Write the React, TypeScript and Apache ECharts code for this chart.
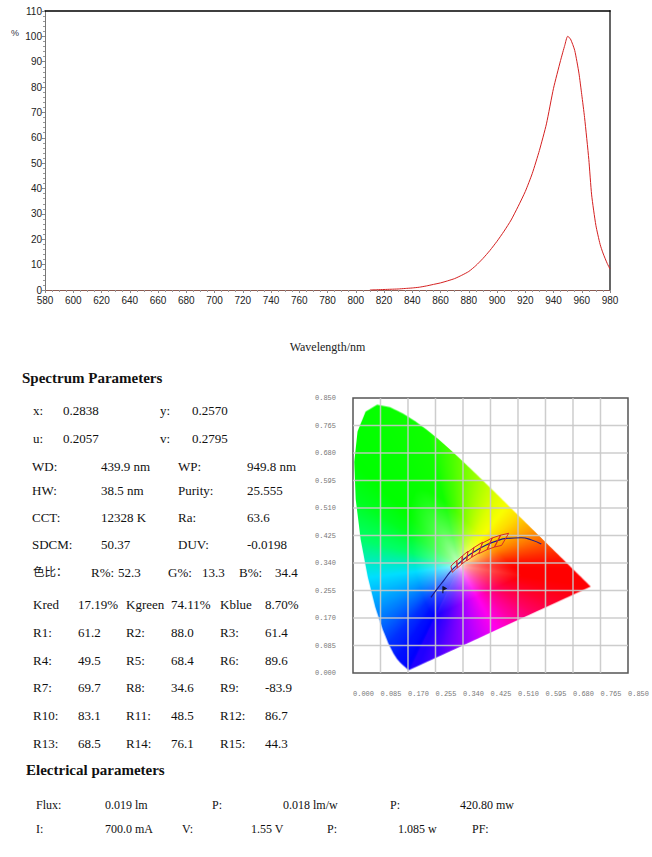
import { useEffect, useRef } from 'react';
import * as echarts from 'echarts';

// relative spectrum (%)
const wavelengths = [810, 815, 820, 825, 830, 835, 840, 845, 850, 855, 860, 865, 870, 875, 880, 885, 890, 895, 900, 905, 910, 915, 920, 925, 930, 935, 940, 945, 948, 950, 952, 955, 958, 960, 962, 965, 967, 970, 973, 975, 978, 980];
const intensities = [0, 0.1, 0.2, 0.3, 0.4, 0.6, 0.8, 1.1, 1.6, 2.2, 2.8, 3.6, 4.5, 5.8, 7.3, 9.6, 12.4, 15.6, 19.2, 23.2, 27.6, 33.0, 38.8, 46.0, 55.0, 65.5, 79.5, 90.5, 96.5, 100, 99, 94.5, 85.5, 77.0, 68.0, 51.5, 37.5, 25.5, 18.0, 14.6, 10.5, 8.3];

const cieTicks = [0, 0.085, 0.17, 0.255, 0.34, 0.425, 0.51, 0.595, 0.68, 0.765, 0.85];

// CIE 1931 spectral locus
const locusNm = [380, 385, 390, 395, 400, 405, 410, 415, 420, 425, 430, 435, 440, 445, 450, 455, 460, 465, 470, 475, 480, 485, 490, 495, 500, 505, 510, 515, 520, 525, 530, 535, 540, 545, 550, 555, 560, 565, 570, 575, 580, 585, 590, 595, 600, 605, 610, 615, 620, 625, 630, 635, 640, 645, 650, 655, 660, 665, 670, 675, 680, 685, 690, 695, 700];
const locusX = [0.1741, 0.1740, 0.1738, 0.1736, 0.1733, 0.1730, 0.1726, 0.1721, 0.1714, 0.1703, 0.1689, 0.1669, 0.1644, 0.1611, 0.1566, 0.1510, 0.1440, 0.1355, 0.1241, 0.1096, 0.0913, 0.0687, 0.0454, 0.0235, 0.0082, 0.0039, 0.0139, 0.0389, 0.0743, 0.1142, 0.1547, 0.1929, 0.2296, 0.2658, 0.3016, 0.3373, 0.3731, 0.4087, 0.4441, 0.4788, 0.5125, 0.5448, 0.5752, 0.6029, 0.6270, 0.6482, 0.6658, 0.6801, 0.6915, 0.7006, 0.7079, 0.7140, 0.7190, 0.7230, 0.7260, 0.7283, 0.7300, 0.7311, 0.7320, 0.7327, 0.7334, 0.7340, 0.7344, 0.7346, 0.7347];
const locusY = [0.0050, 0.0050, 0.0049, 0.0049, 0.0048, 0.0048, 0.0048, 0.0048, 0.0051, 0.0058, 0.0069, 0.0086, 0.0109, 0.0138, 0.0177, 0.0227, 0.0297, 0.0399, 0.0578, 0.0868, 0.1327, 0.2007, 0.2950, 0.4127, 0.5384, 0.6548, 0.7502, 0.8120, 0.8338, 0.8262, 0.8059, 0.7816, 0.7543, 0.7243, 0.6923, 0.6589, 0.6245, 0.5896, 0.5547, 0.5202, 0.4866, 0.4544, 0.4242, 0.3965, 0.3725, 0.3514, 0.3340, 0.3197, 0.3083, 0.2993, 0.2920, 0.2859, 0.2809, 0.2770, 0.2740, 0.2717, 0.2700, 0.2689, 0.2680, 0.2673, 0.2666, 0.2660, 0.2656, 0.2654, 0.2653];
const locusColorStops: [number, string][] = [
  [380, '#2000ff'], [440, '#0000ff'], [465, '#0010ff'], [475, '#0030ff'], [482, '#0070ff'],
  [487, '#00b0ff'], [492, '#00ffff'], [495.5, '#00ff50'], [500, '#00ff20'], [505, '#00ff00'],
  [540, '#10ff00'], [552, '#50ff00'], [562, '#a0ff00'], [570, '#e0ff00'], [576, '#ffff00'],
  [582, '#ffc800'], [588, '#ff9000'], [595, '#ff5000'], [603, '#ff1800'], [615, '#ff0000'],
  [700, '#ff0000'],
];
// line of purples, from the red end back to the violet end
const purpleX = [0.68, 0.62, 0.56, 0.50, 0.44, 0.38, 0.32, 0.26, 0.20];
const purpleY = [0.2399, 0.2120, 0.1842, 0.1563, 0.1285, 0.1006, 0.0727, 0.0449, 0.0170];
const purpleColors = ['#ff0010', '#ff0030', '#ff0060', '#ff00a0', '#ff00f0', '#c000ff', '#8000ff', '#4800ff', '#2000ff'];
const whitePoint = [0.33, 0.33];

const planckX = [0.241, 0.262, 0.282, 0.300, 0.320, 0.350, 0.380, 0.410, 0.440, 0.475, 0.520, 0.550, 0.582];
const planckY = [0.234, 0.262, 0.288, 0.312, 0.332, 0.358, 0.378, 0.395, 0.407, 0.416, 0.418, 0.412, 0.399];

const ansiBins = [
  [[0.4813, 0.4319], [0.4562, 0.4260], [0.4373, 0.3893], [0.4593, 0.3944]],
  [[0.4562, 0.4260], [0.4303, 0.4173], [0.4147, 0.3814], [0.4373, 0.3893]],
  [[0.4303, 0.4173], [0.3996, 0.4015], [0.3889, 0.3690], [0.4147, 0.3814]],
  [[0.4006, 0.4044], [0.3736, 0.3874], [0.3670, 0.3578], [0.3898, 0.3716]],
  [[0.3736, 0.3874], [0.3548, 0.3736], [0.3512, 0.3465], [0.3670, 0.3578]],
  [[0.3551, 0.3760], [0.3376, 0.3616], [0.3366, 0.3369], [0.3515, 0.3487]],
  [[0.3376, 0.3616], [0.3207, 0.3462], [0.3222, 0.3243], [0.3366, 0.3369]],
  [[0.3205, 0.3481], [0.3028, 0.3304], [0.3068, 0.3113], [0.3221, 0.3261]],
];
const measuredXY = [0.2838, 0.2570];

// parameter texts
const spectrumTitle = 'Spectrum Parameters';
const coordRows = [
  ['x:', '0.2838', 'y:', '0.2570'],
  ['u:', '0.2057', 'v:', '0.2795'],
];
const photoRows = [
  ['WD:', '439.9 nm', 'WP:', '949.8 nm'],
  ['HW:', '38.5 nm', 'Purity:', '25.555'],
  ['CCT:', '12328 K', 'Ra:', '63.6'],
  ['SDCM:', '50.37', 'DUV:', '-0.0198'],
];
const ratioRow = ['色比：', 'R%:', '52.3', 'G%:', '13.3', 'B%:', '34.4'];
const renderRows = [
  ['Kred', '17.19%', 'Kgreen', '74.11%', 'Kblue', '8.70%'],
  ['R1:', '61.2', 'R2:', '88.0', 'R3:', '61.4'],
  ['R4:', '49.5', 'R5:', '68.4', 'R6:', '89.6'],
  ['R7:', '69.7', 'R8:', '34.6', 'R9:', '-83.9'],
  ['R10:', '83.1', 'R11:', '48.5', 'R12:', '86.7'],
  ['R13:', '68.5', 'R14:', '76.1', 'R15:', '44.3'],
];
const electricalTitle = 'Electrical parameters';
const elecRow1 = ['Flux:', '0.019 lm', 'P:', '0.018 lm/w', 'P:', '420.80 mw'];
const elecRow2 = ['I:', '700.0 mA', 'V:', '1.55 V', 'P:', '1.085 w', 'PF:'];

const hexRgb = (h: string) => {
  const n = parseInt(h.slice(1), 16);
  return [(n >> 16) & 255, (n >> 8) & 255, n & 255];
};
const colorAt = (nm: number) => {
  for (let i = 0; i < locusColorStops.length - 1; i++) {
    const [n0, c0] = locusColorStops[i];
    const [n1, c1] = locusColorStops[i + 1];
    if (nm >= n0 && nm <= n1) {
      const p = hexRgb(c0), q = hexRgb(c1), t = (nm - n0) / (n1 - n0);
      return p.map((v, k) => v + (q[k] - v) * t);
    }
  }
  return [255, 0, 0];
};

const boundary = [
  ...locusX.map((x, i) => [x, locusY[i]]),
  ...purpleX.map((x, i) => [x, purpleY[i]]),
];
const boundaryRgb = [...locusNm.map(colorAt), ...purpleColors.map(hexRgb)];

// chromaticity background: colours spread from the white point out to the boundary
const buildGamut = (w: number, h: number, span: number) => {
  const canvas = document.createElement('canvas');
  canvas.width = w;
  canvas.height = h;
  const ctx = canvas.getContext('2d');
  if (!ctx) return '';
  const N = 1440;
  const rayLen = new Float32Array(N);
  const rayRgb: number[][] = [];
  const [wx, wy] = whitePoint;
  for (let k = 0; k < N; k++) {
    const th = (k / N) * Math.PI * 2 - Math.PI;
    const dx = Math.cos(th), dy = Math.sin(th);
    let best = Infinity;
    let col = [255, 255, 255];
    for (let i = 0; i < boundary.length; i++) {
      const j = (i + 1) % boundary.length;
      const [ax, ay] = boundary[i];
      const ex = boundary[j][0] - ax, ey = boundary[j][1] - ay;
      const den = dx * ey - dy * ex;
      if (Math.abs(den) < 1e-12) continue;
      const fx = ax - wx, fy = ay - wy;
      const t = (fx * ey - fy * ex) / den;
      const s = (fx * dy - fy * dx) / den;
      if (t > 0 && s >= 0 && s <= 1 && t < best) {
        best = t;
        const c0 = boundaryRgb[i], c1 = boundaryRgb[j];
        col = c0.map((v, m) => v + (c1[m] - v) * s);
      }
    }
    rayLen[k] = best;
    rayRgb.push(col);
  }
  const img = ctx.createImageData(w, h);
  for (let py = 0; py < h; py++) {
    const y = (1 - (py + 0.5) / h) * span;
    for (let px = 0; px < w; px++) {
      const x = ((px + 0.5) / w) * span;
      const ddx = x - wx, ddy = y - wy;
      const th = Math.atan2(ddy, ddx);
      let k = Math.floor(((th + Math.PI) / (Math.PI * 2)) * N);
      if (k >= N) k = N - 1;
      const d = Math.sqrt(ddx * ddx + ddy * ddy) / rayLen[k];
      const f = Math.sqrt(Math.min(1, d / 0.48));
      const c = rayRgb[k];
      const o = (py * w + px) * 4;
      img.data[o] = 255 + (c[0] - 255) * f;
      img.data[o + 1] = 255 + (c[1] - 255) * f;
      img.data[o + 2] = 255 + (c[2] - 255) * f;
      img.data[o + 3] = 255;
    }
  }
  ctx.putImageData(img, 0, 0);
  ctx.globalCompositeOperation = 'destination-in';
  ctx.beginPath();
  boundary.forEach(([x, y], i) => {
    const cx = (x / span) * w, cy = (1 - y / span) * h;
    if (i === 0) ctx.moveTo(cx, cy);
    else ctx.lineTo(cx, cy);
  });
  ctx.closePath();
  ctx.fill();
  return canvas.toDataURL();
};

const SERIF = "'Liberation Serif', 'Noto Sans CJK SC', serif";

const textEl = (text: string, x: number, y: number, size = 13, bold = false) => ({
  type: 'text',
  x,
  y,
  style: {
    text,
    fill: '#111',
    fontSize: /[\u4e00-\u9fff]/.test(text) ? size - 1.5 : size,
    fontFamily: SERIF,
    fontWeight: bold ? 'bold' : 'normal',
    verticalAlign: 'middle',
    align: 'left',
  },
});

const rowEls = (rows: string[][], cols: number[], ys: number[], size = 13) =>
  rows.flatMap((row, r) => row.map((t, c) => textEl(t, cols[c], ys[r], size)));

const App = () => {
  const chartRef = useRef<HTMLDivElement>(null);

  useEffect(() => {
    if (!chartRef.current) return;
    const chart = echarts.init(chartRef.current, undefined, { renderer: 'svg' });
    const gamutUrl = buildGamut(556, 550, 0.85);

    const graphics: any[] = [
      { type: 'text', x: 11, y: 33, style: { text: '%', fontSize: 9, fill: '#334', fontFamily: 'Liberation Sans', verticalAlign: 'middle' } },
      textEl(spectrumTitle, 22, 378, 15, true),
      ...rowEls(coordRows, [33, 63, 160, 192], [410, 438]),
      ...rowEls(photoRows, [32, 101, 178, 247], [466, 490, 517, 544]),
      ...rowEls([ratioRow], [33, 91, 118, 168, 202, 239, 275], [572]),
      ...rowEls(renderRows, [33, 78, 126, 171, 220, 265], [604, 632, 660, 687, 715, 743]),
      textEl(electricalTitle, 26, 770, 15, true),
      ...rowEls([elecRow1], [36, 105, 212, 283, 390, 460], [805], 12),
      ...rowEls([elecRow2], [36, 105, 182, 251, 327, 398, 472], [829], 12),
    ];

    const cieLabel = {
      fontSize: 7,
      color: '#777',
      fontFamily: 'Liberation Mono',
      formatter: (v: number) => v.toFixed(3),
      showMinLabel: true,
      showMaxLabel: true,
      hideOverlap: false,
    };

    const option: any = {
      animation: false,
      textStyle: { fontFamily: 'Liberation Sans' },
      graphic: graphics,
      grid: [
        { left: 45, top: 11, width: 565, height: 279, show: false },
        { left: 353, top: 398, width: 278, height: 275, show: true, borderColor: '#555', borderWidth: 1.5, backgroundColor: '#fff' },
      ],
      xAxis: [
        {
          gridIndex: 0, type: 'value', min: 580, max: 980, interval: 20,
          axisLine: { onZero: false, lineStyle: { color: '#8a5a50', width: 1 } },
          axisTick: { length: 3, lineStyle: { color: '#888' } },
          minorTick: { show: true, splitNumber: 4, length: 2, lineStyle: { color: '#999' } },
          axisLabel: { fontSize: 10, color: '#222', margin: 5 },
          splitLine: { show: false },
          name: 'Wavelength/nm', nameLocation: 'middle', nameGap: 51,
          nameTextStyle: { fontFamily: SERIF, fontSize: 12, color: '#222' },
        },
        {
          gridIndex: 0, type: 'value', position: 'top', min: 580, max: 980,
          axisLine: { onZero: false, lineStyle: { color: '#000', width: 1.5 } },
          axisTick: { show: false }, axisLabel: { show: false }, splitLine: { show: false },
        },
        {
          gridIndex: 1, type: 'value', min: 0, max: 0.85, interval: 0.085,
          axisLine: { show: false }, axisTick: { show: false }, splitLine: { show: false },
          axisLabel: { ...cieLabel, align: 'left', margin: 17 },
        },
      ],
      yAxis: [
        {
          gridIndex: 0, type: 'value', min: 0, max: 110, interval: 10,
          axisLine: { show: true, onZero: false, lineStyle: { color: '#777' } },
          axisTick: { show: true, length: 3, lineStyle: { color: '#888' } },
          minorTick: { show: true, splitNumber: 5, length: 2, lineStyle: { color: '#999' } },
          axisLabel: { fontSize: 10, color: '#222', margin: 3, lineHeight: 10, padding: [0, 0, 1, 0] },
          splitLine: { show: false },
        },
        {
          gridIndex: 0, type: 'value', position: 'right', min: 0, max: 110,
          axisLine: { show: true, onZero: false, lineStyle: { color: '#666', width: 2 } },
          axisTick: { show: false }, axisLabel: { show: false }, splitLine: { show: false },
        },
        {
          gridIndex: 1, type: 'value', min: 0, max: 0.85, interval: 0.085,
          axisLine: { show: false }, axisTick: { show: false }, splitLine: { show: false },
          axisLabel: { ...cieLabel, margin: 17 },
        },
      ],
      series: [
        {
          type: 'line', xAxisIndex: 0, yAxisIndex: 0,
          data: wavelengths.map((w, i) => [w, intensities[i]]),
          smooth: 0.2, showSymbol: false, symbol: 'none',
          lineStyle: { color: '#d42020', width: 1 },
        },
        {
          type: 'custom', xAxisIndex: 2, yAxisIndex: 2, z: 1,
          data: [[0, 0.85]],
          renderItem: (_params: any, api: any) => {
            const tl = api.coord([0, 0.85]);
            const br = api.coord([0.85, 0]);
            return {
              type: 'image',
              style: { image: gamutUrl, x: tl[0], y: tl[1], width: br[0] - tl[0], height: br[1] - tl[1] },
            };
          },
        },
        {
          type: 'custom', xAxisIndex: 2, yAxisIndex: 2, z: 2,
          data: cieTicks.slice(1, -1).map((t) => [t, t]),
          renderItem: (_params: any, api: any) => {
            const t = api.value(0);
            const v0 = api.coord([t, 0]);
            const v1 = api.coord([t, 0.85]);
            const h0 = api.coord([0, t]);
            const h1 = api.coord([0.85, t]);
            const st = { stroke: 'rgba(200,200,200,0.9)', lineWidth: 1.5 };
            return {
              type: 'group',
              children: [
                { type: 'line', shape: { x1: v0[0], y1: v0[1], x2: v1[0], y2: v1[1] }, style: st },
                { type: 'line', shape: { x1: h0[0], y1: h0[1], x2: h1[0], y2: h1[1] }, style: st },
              ],
            };
          },
        },
        {
          type: 'line', xAxisIndex: 2, yAxisIndex: 2, z: 3,
          data: planckX.map((x, i) => [x, planckY[i]]),
          smooth: true, showSymbol: false, symbol: 'none',
          lineStyle: { color: '#1c1c8c', width: 1.2 },
        },
        {
          type: 'custom', xAxisIndex: 2, yAxisIndex: 2, z: 4,
          data: ansiBins.map((b) => b[0]),
          renderItem: (params: any, api: any) => ({
            type: 'polygon',
            shape: { points: ansiBins[params.dataIndex].map((p) => api.coord(p)) },
            style: { fill: 'none', stroke: '#d42a2a', lineWidth: 1 },
          }),
        },
        {
          type: 'scatter', xAxisIndex: 2, yAxisIndex: 2, z: 5,
          data: [measuredXY],
          symbol: 'path://M0,0L0,12L2,12L2,7L9,3.5L2,0Z',
          symbolSize: [5, 7],
          itemStyle: { color: '#000' },
        },
      ],
    };

    chart.setOption(option);
    return () => {
      chart.dispose();
    };
  }, []);

  return <div ref={chartRef} style={{ position: 'absolute', left: 0, top: 0, width: '652px', height: '857px' }} />;
};

export default App;
